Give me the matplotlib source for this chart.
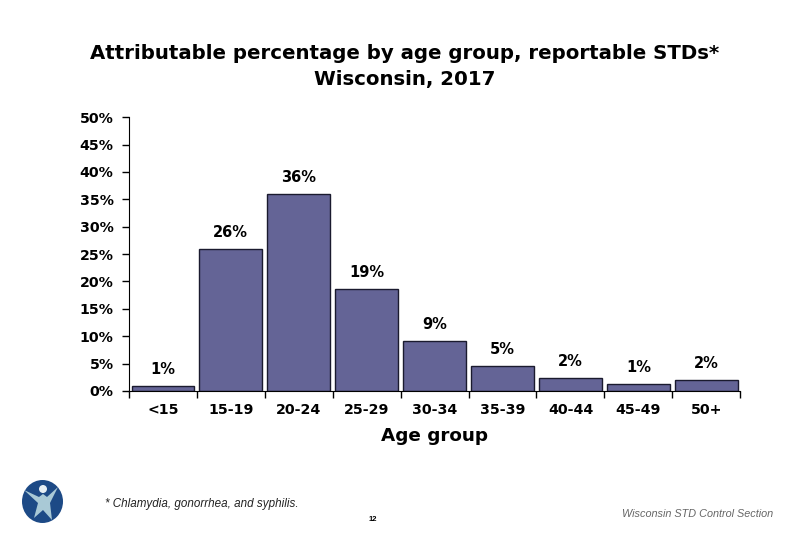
import numpy as np
import matplotlib
matplotlib.use('Agg')
import matplotlib.pyplot as plt
from matplotlib.patches import Ellipse, Polygon

plt.rcParams['font.family'] = ['DejaVu Sans']

# Data
age_groups = ['<15', '15-19', '20-24', '25-29', '30-34', '35-39', '40-44', '45-49', '50+']
pct_values = [0.9, 26.0, 36.0, 18.6, 9.1, 4.6, 2.4, 1.3, 2.0]
pct_labels = ['1%', '26%', '36%', '19%', '9%', '5%', '2%', '1%', '2%']
y_ticks = [0, 5, 10, 15, 20, 25, 30, 35, 40, 45, 50]

W, H = 810, 540

fig = plt.figure(figsize=(8.1, 5.4), dpi=100)
ax = fig.add_axes([0.159, 0.276, 0.755, 0.507])

x = np.arange(len(age_groups))
ax.bar(x, pct_values, width=0.92, color='#646496', edgecolor='#1a1a2e', linewidth=1.0)

for xi, v, lab in zip(x, pct_values, pct_labels):
    ax.text(xi, v + 1.6, lab, ha='center', va='bottom', fontsize=10.5, fontweight='bold')

ax.set_xlim(-0.5, len(age_groups) - 0.5)
ax.set_ylim(0, 50)
ax.set_yticks(y_ticks)
ax.set_yticklabels([f'{t}%' for t in y_ticks], fontsize=10.2, fontweight='bold')

# category labels centred, tick marks on boundaries
ax.set_xticks(np.arange(len(age_groups) + 1) - 0.5)
ax.set_xticklabels([])
ax.set_xticks(x, minor=True)
ax.set_xticklabels(age_groups, minor=True, fontsize=10.2, fontweight='bold')
ax.tick_params(axis='x', which='minor', length=0, pad=9)
ax.tick_params(axis='x', which='major', direction='out', length=5, width=1)
ax.tick_params(axis='y', direction='out', length=5, width=1, pad=6)

ax.spines['top'].set_visible(False)
ax.spines['right'].set_visible(False)
ax.set_xlabel('Age group', fontsize=13.2, fontweight='bold', labelpad=7)

fig.text(0.5, 0.877, 'Attributable percentage by age group, reportable STDs*\nWisconsin, 2017',
         ha='center', va='center', fontsize=14.2, fontweight='bold', linespacing=1.45)

# footer
fig.text(0.13, 0.062, '* Chlamydia, gonorrhea, and syphilis.', fontsize=8.4, style='italic',
         color='#222222', family='Liberation Sans')
fig.text(0.455, 0.035, '12', fontsize=5.5, fontweight='bold', family='Liberation Sans')
fig.text(0.955, 0.042, 'Wisconsin STD Control Section', fontsize=7.8, style='italic',
         color='#666666', ha='right', family='Liberation Sans')

# logo (pixel coordinates converted to figure fractions)
def px(pts):
    return [[a / W, 1 - b / H] for a, b in pts]

fig.patches.append(Ellipse((42.5 / W, 1 - 501.5 / H), 41 / W, 43 / H, transform=fig.transFigure,
                           facecolor='#1d4a86', edgecolor='none'))
fig.patches.append(Polygon(px([(24, 490), (39, 497), (43, 494), (47, 497), (58, 487),
                               (50, 503), (52, 520), (43, 510), (34, 518), (38, 503)]),
                           closed=True, transform=fig.transFigure,
                           facecolor='#a9c9d6', edgecolor='none'))
fig.patches.append(Ellipse((43 / W, 1 - 489 / H), 8 / W, 8 / H, transform=fig.transFigure,
                           facecolor='#e8f0f4', edgecolor='none'))

fig.savefig('out.png', dpi=100)
